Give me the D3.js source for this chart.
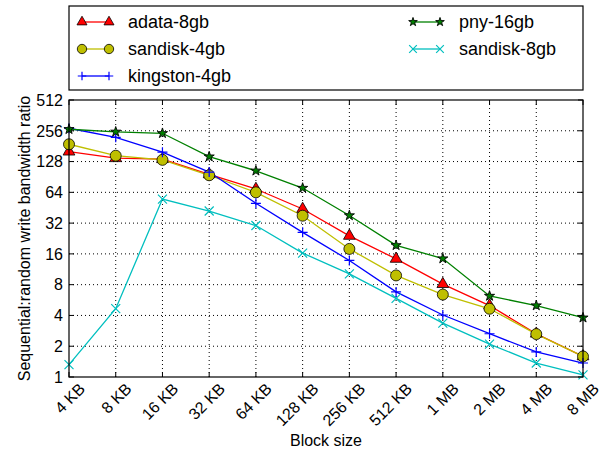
<!DOCTYPE html>
<html>
<head>
<meta charset="utf-8">
<script src="https://cdn.jsdelivr.net/npm/d3@7"></script>
<style>
  body { margin: 0; background: #fff; }
  svg { font-family: "Liberation Sans", Arial, sans-serif; }
</style>
</head>
<body>
<svg id="chart" width="607" height="451"></svg>
<script>
"use strict";
const blockSizes = ['4 KB', '8 KB', '16 KB', '32 KB', '64 KB', '128 KB', '256 KB', '512 KB', '1 MB', '2 MB', '4 MB', '8 MB'];
const yTicks = [1, 2, 4, 8, 16, 32, 64, 128, 256, 512];

const adata8 = [160, 138, 135, 96, 69, 44, 24, 14.3, 8.1, 5.0, 2.65, 1.59];
const sandisk4 = [189, 146, 133, 94, 64, 37.8, 17.9, 9.85, 6.4, 4.65, 2.63, 1.59];
const kingston4 = [271, 221, 158, 101, 50, 26, 13.8, 6.8, 4.04, 2.65, 1.76, 1.37];
const pny16 = [265, 250, 242, 143, 104, 70.5, 38, 19.4, 14.4, 6.2, 5.0, 3.8];
const sandisk8 = [1.32, 4.66, 55, 42, 30.3, 16.3, 10.2, 5.87, 3.37, 2.1, 1.37, 1.05];

const series = [
    { name: 'adata-8gb', values: adata8, color: '#ff0000', marker: 'triangle' },
    { name: 'sandisk-4gb', values: sandisk4, color: '#bfbf00', marker: 'circle' },
    { name: 'kingston-4gb', values: kingston4, color: '#0000ff', marker: 'plus' },
    { name: 'pny-16gb', values: pny16, color: '#008000', marker: 'star' },
    { name: 'sandisk-8gb', values: sandisk8, color: '#00bfbf', marker: 'x' }
];

const svg = d3.select('#chart');
const pLeft = 69, pRight = 583, pTop = 100, pBottom = 377;

const x = d3.scalePoint().domain(blockSizes).range([pLeft, pRight]);
const y = d3.scaleLog().base(2).domain([1, 512]).range([pBottom, pTop]);

// grid
const grid = svg.append('g').attr('stroke', '#000').attr('stroke-width', 1)
    .attr('stroke-dasharray', '1,3');
grid.selectAll('.gx').data(blockSizes.slice(1, -1)).enter().append('line')
    .attr('x1', d => x(d)).attr('x2', d => x(d)).attr('y1', pTop).attr('y2', pBottom);
grid.selectAll('.gy').data(yTicks.slice(1, -1)).enter().append('line')
    .attr('x1', pLeft).attr('x2', pRight).attr('y1', d => y(d)).attr('y2', d => y(d));

// inward ticks on all sides
const ticks = svg.append('g').attr('stroke', '#000').attr('stroke-width', 1);
blockSizes.forEach(d => {
    ticks.append('line').attr('x1', x(d)).attr('x2', x(d)).attr('y1', pBottom).attr('y2', pBottom - 5);
    ticks.append('line').attr('x1', x(d)).attr('x2', x(d)).attr('y1', pTop).attr('y2', pTop + 5);
});
yTicks.forEach(d => {
    ticks.append('line').attr('x1', pLeft).attr('x2', pLeft + 5).attr('y1', y(d)).attr('y2', y(d));
    ticks.append('line').attr('x1', pRight).attr('x2', pRight - 5).attr('y1', y(d)).attr('y2', y(d));
});

// tick labels
svg.append('g').selectAll('text').data(yTicks).enter().append('text')
    .attr('x', pLeft - 6).attr('y', d => y(d)).attr('dy', '0.36em')
    .attr('text-anchor', 'end').attr('font-size', '16px')
    .text(d => d);
svg.append('g').selectAll('text').data(blockSizes).enter().append('text')
    .attr('transform', d => `translate(${x(d) + 9},${pBottom + 5}) rotate(-45)`)
    .attr('text-anchor', 'end').attr('dy', '0.7em').attr('font-size', '16px')
    .text(d => d);

// axis titles
svg.append('text').attr('x', (pLeft + pRight) / 2).attr('y', 446)
    .attr('text-anchor', 'middle').attr('font-size', '16px').text('Block size');
svg.append('text').attr('transform', `translate(30,${(pTop + pBottom) / 2}) rotate(-90)`)
    .attr('text-anchor', 'middle').attr('font-size', '16px')
    .text('Sequential:random write bandwidth ratio');

function drawMarker(g, s, cx, cy, scale) {
    const k = scale || 1;
    if (s.marker === 'triangle') {
        g.append('path').attr('d', d3.symbol(d3.symbolTriangle, 60 * k * k)())
            .attr('transform', `translate(${cx},${cy})`)
            .attr('fill', s.color).attr('stroke', '#000').attr('stroke-width', 0.8);
    } else if (s.marker === 'circle') {
        g.append('circle').attr('cx', cx).attr('cy', cy).attr('r', 5.5 * k)
            .attr('fill', s.color).attr('stroke', '#000').attr('stroke-width', 0.8);
    } else if (s.marker === 'star') {
        g.append('path').attr('d', d3.symbol(d3.symbolStar, 32 * k * k)())
            .attr('transform', `translate(${cx},${cy})`)
            .attr('fill', s.color).attr('stroke', '#000').attr('stroke-width', 0.9);
    } else if (s.marker === 'plus') {
        const r = 5 * k;
        g.append('path').attr('d', `M${cx - r},${cy}H${cx + r}M${cx},${cy - r}V${cy + r}`)
            .attr('stroke', s.color).attr('stroke-width', 1.2);
    } else {
        const r = 4.5 * k;
        g.append('path').attr('d', `M${cx - r},${cy - r}L${cx + r},${cy + r}M${cx - r},${cy + r}L${cx + r},${cy - r}`)
            .attr('stroke', s.color).attr('stroke-width', 1.2);
    }
}

const line = d3.line().x((d, i) => x(blockSizes[i])).y(d => y(d));
const plot = svg.append('g');
series.forEach(s => {
    plot.append('path').datum(s.values).attr('d', line)
        .attr('fill', 'none').attr('stroke', s.color).attr('stroke-width', 1.3);
});
series.forEach(s => {
    s.values.forEach((v, i) => drawMarker(plot, s, x(blockSizes[i]), y(v)));
});

// frame
svg.append('rect').attr('x', pLeft).attr('y', pTop).attr('width', pRight - pLeft).attr('height', pBottom - pTop)
    .attr('fill', 'none').attr('stroke', '#000').attr('stroke-width', 1.2);

// legend
const legend = svg.append('g');
legend.append('rect').attr('x', pLeft).attr('y', 6).attr('width', pRight - pLeft).attr('height', 84)
    .attr('fill', '#fff').attr('stroke', '#000').attr('stroke-width', 1.2);
series.forEach((s, i) => {
    const col = i < 3 ? 0 : 1;
    const row = i < 3 ? i : i - 3;
    const lx = col === 0 ? 82 : 413;
    const ly = 22 + row * 27;
    legend.append('line').attr('x1', lx).attr('x2', lx + 27).attr('y1', ly).attr('y2', ly)
        .attr('stroke', s.color).attr('stroke-width', 1.3);
    drawMarker(legend, s, lx, ly, 0.85);
    drawMarker(legend, s, lx + 27, ly, 0.85);
    legend.append('text').attr('x', lx + 46).attr('y', ly).attr('dy', '0.36em')
        .attr('font-size', '18px').text(s.name);
});
</script>
</body>
</html>
